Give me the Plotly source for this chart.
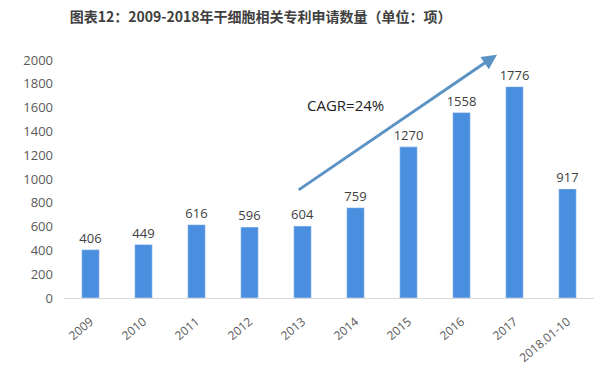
import plotly.graph_objects as go

categories = ["2009", "2010", "2011", "2012", "2013", "2014", "2015", "2016", "2017", "2018.01-10"]
values = [406, 449, 616, 596, 604, 759, 1270, 1558, 1776, 917]
y_ticks = [0, 200, 400, 600, 800, 1000, 1200, 1400, 1600, 1800, 2000]

fig = go.Figure()
fig.add_trace(go.Bar(
    x=list(range(len(categories))), y=values,
    marker_color="#4a8ee0", width=0.33,
    text=[str(v) for v in values], textposition="outside",
    constraintext="none",
    textfont=dict(size=13, color="#404040", family="Open Sans"),
    cliponaxis=False,
))

fig.add_annotation(x=7.67, y=2045, ax=3.9, ay=900, xref="x", yref="y", axref="x", ayref="y",
                   showarrow=True, arrowhead=2, arrowsize=1, arrowwidth=3, arrowcolor="#5b93c4", text="")
fig.add_annotation(x=4.82, y=1625, xref="x", yref="y", text="CAGR=24%", showarrow=False,
                   font=dict(size=15, color="#222222", family="Open Sans"))

fig.update_layout(
    width=609, height=377,
    margin=dict(l=64, r=15, t=60, b=79, autoexpand=False),
    paper_bgcolor="white", plot_bgcolor="white",
    title=dict(text="<b>图表12：2009-2018年干细胞相关专利申请数量（单位：项）</b>", x=0.428, xanchor="center",
               y=1 - 17 / 377, yanchor="middle",
               font=dict(size=14, color="#404040", family="Noto Sans CJK SC")),
    showlegend=False,
    xaxis=dict(tickmode="array", tickvals=list(range(len(categories))), ticktext=categories,
               tickangle=-40, range=[-0.5, 9.5], showline=True, linecolor="#d9d9d9", ticks="",
               automargin=False, ticklabelstandoff=11,
               tickfont=dict(size=12, color="#595959", family="Open Sans"), showgrid=False),
    yaxis=dict(range=[0, 2000], tickvals=y_ticks, showgrid=False, zeroline=False, automargin=False,
               tickfont=dict(size=13, color="#595959", family="Open Sans"), ticklabelstandoff=10),
)
fig.write_html("out.html", config={"displayModeBar": False},
               post_script="document.body.style.margin='0';")
